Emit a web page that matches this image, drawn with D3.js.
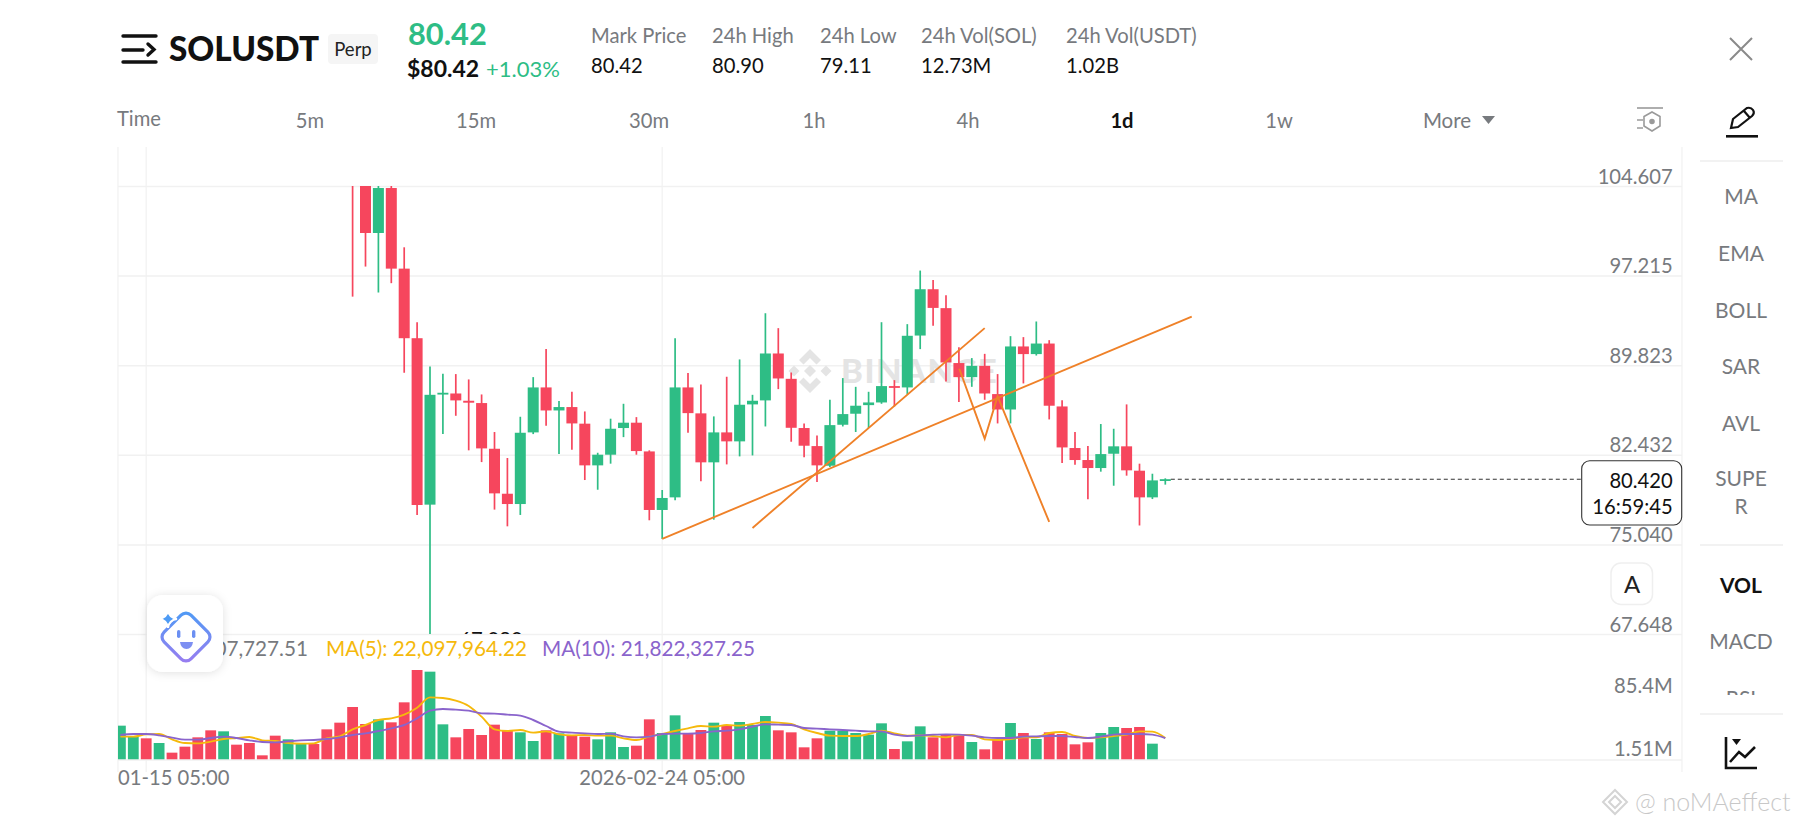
<!DOCTYPE html>
<html>
<head>
<meta charset="utf-8">
<script src="https://cdn.jsdelivr.net/npm/d3@7"></script>
<style>
  html, body { margin: 0; padding: 0; background: #fff; overflow: hidden; }
  text { font-family: Lato, "Open Sans", sans-serif; }
</style>
</head>
<body>
<svg id="chart" width="1800" height="828"></svg>
<script>
// Price ticks and volume ticks
let priceTicks = [104.607, 97.215, 89.823, 82.432, 75.040, 67.648];
let volumeTicks = [85.4, 1.51];
let volumeTickLabels = ["85.4M", "1.51M"];

// Candles, the ones before candleStart are above the visible pane
let candleStart = 18;
let opens = [108.2, 106.5, 100.73, 104.44, 97.79, 92.05, 78.32, 87.41, 87.49, 86.89, 86.70, 82.93, 79.22, 78.37, 84.28, 87.99, 86.09, 86.37, 85.00, 81.56, 82.44, 84.64, 85.08, 82.71, 77.88, 78.92, 87.99, 85.85, 81.81, 84.28, 83.54, 86.59, 86.92, 90.79, 88.70, 84.64, 83.15, 81.53, 84.91, 85.82, 86.53, 86.75, 88.10, 87.99, 92.27, 96.09, 94.53, 90.00, 88.84, 89.77, 87.44, 86.17, 91.37, 90.74, 91.61, 86.42, 82.99, 82.00, 81.34, 82.52, 83.13, 81.12, 78.92, 80.40];
let highs = [108.8, 107.0, 104.63, 104.63, 99.55, 93.37, 89.72, 89.11, 89.09, 88.65, 87.41, 84.31, 82.17, 85.57, 88.84, 91.15, 86.86, 87.63, 86.01, 82.60, 85.41, 86.64, 85.54, 82.80, 79.53, 92.05, 89.17, 88.24, 85.60, 88.87, 90.30, 87.38, 94.11, 92.88, 89.22, 85.02, 84.03, 86.97, 88.76, 88.04, 87.63, 93.37, 88.59, 93.21, 97.63, 96.86, 95.60, 91.31, 90.41, 90.76, 89.09, 92.22, 92.14, 93.43, 91.89, 86.94, 84.31, 83.15, 84.97, 84.58, 86.59, 81.70, 80.87, 80.49];
let lows = [95.48, 97.96, 95.82, 96.59, 89.20, 77.47, 67.10, 84.14, 85.65, 82.80, 81.83, 77.91, 76.53, 77.47, 84.14, 84.83, 82.50, 82.85, 80.35, 79.55, 81.70, 83.89, 82.44, 77.03, 75.49, 78.68, 84.25, 80.24, 77.08, 81.64, 82.30, 82.38, 84.77, 87.85, 83.51, 82.22, 80.19, 81.42, 84.77, 84.31, 84.64, 86.64, 86.42, 87.41, 91.15, 93.07, 88.48, 86.78, 88.04, 86.97, 85.02, 85.02, 88.32, 90.62, 85.35, 81.75, 81.61, 78.76, 81.04, 79.88, 80.71, 76.60, 78.78, 79.97];
let closes = [105.9, 100.73, 104.44, 97.79, 92.05, 78.29, 87.38, 87.55, 86.92, 86.73, 82.96, 79.25, 78.37, 84.25, 87.99, 86.09, 86.37, 85.02, 81.56, 82.44, 84.58, 85.08, 82.74, 77.88, 78.87, 87.99, 85.87, 81.81, 84.28, 83.54, 86.56, 86.89, 90.79, 88.73, 84.66, 83.18, 81.56, 84.88, 85.79, 86.48, 86.75, 88.10, 87.96, 92.25, 96.09, 94.55, 90.05, 88.84, 89.77, 87.49, 86.17, 91.37, 90.74, 91.61, 86.48, 83.04, 82.00, 81.34, 82.49, 83.13, 81.15, 78.92, 80.32, 80.42];

// Volume in millions, one per day
let volumes = [33.51, 23.26, 21.71, 17.36, 8.35, 13.94, 22.64, 29.16, 28.23, 15.80, 17.36, 5.86, 24.19, 20.77, 17.05, 16.42, 30.09, 36.31, 50.91, 35.07, 39.41, 36.62, 55.26, 85.40, 83.85, 34.75, 22.64, 30.41, 24.81, 34.44, 28.54, 27.30, 19.22, 29.16, 26.37, 24.81, 23.26, 20.77, 27.30, 13.63, 14.87, 39.41, 26.68, 43.14, 25.74, 29.47, 36.31, 33.51, 36.93, 34.13, 42.52, 29.16, 27.30, 13.32, 21.71, 28.85, 28.85, 26.68, 25.12, 35.69, 11.76, 18.91, 32.89, 22.64, 24.81, 25.74, 18.29, 11.45, 20.15, 36.00, 26.68, 21.08, 27.30, 25.74, 16.11, 17.98, 26.68, 32.27, 31.34, 32.27, 16.73, 0.31];
let volumeUp = "GGRGRRRRGRRRRGGRRRRRGRRRGGRRRRRGGRGRRGGGRRGGRRGRGGGRRRRGGGGGRGGRRRGRRGRGRRRRGGRRGG";
let ma5 = [23.26, 23.26, 25.43, 25.74, 20.77, 17.36, 17.05, 18.60, 21.08, 22.02, 22.95, 19.84, 19.22, 17.36, 16.73, 17.05, 21.71, 23.57, 30.09, 34.13, 38.79, 40.35, 43.77, 50.29, 59.92, 59.30, 56.81, 51.84, 41.90, 30.09, 28.54, 29.47, 26.99, 28.23, 25.43, 24.50, 24.81, 24.19, 24.19, 21.71, 20.15, 23.26, 25.74, 28.54, 31.03, 33.20, 32.58, 34.13, 33.51, 35.07, 36.93, 36.31, 35.07, 30.09, 26.68, 24.19, 23.88, 23.88, 25.74, 28.85, 26.37, 24.19, 24.50, 23.88, 22.64, 24.81, 24.81, 20.77, 20.15, 21.08, 22.64, 22.64, 26.68, 27.61, 23.88, 22.02, 22.64, 23.88, 25.12, 28.23, 27.92, 22.10];
let ma10 = [24.81, 25.74, 25.74, 24.50, 22.33, 20.46, 20.46, 22.02, 23.26, 22.02, 19.84, 18.29, 17.98, 18.91, 19.84, 20.15, 21.08, 22.64, 24.81, 26.37, 28.54, 31.03, 34.13, 40.35, 47.49, 49.05, 48.43, 47.49, 45.01, 44.70, 43.77, 42.83, 38.79, 33.20, 27.92, 26.99, 26.37, 25.74, 26.05, 23.57, 22.64, 23.26, 25.74, 26.05, 26.05, 26.68, 28.23, 28.85, 30.09, 32.58, 34.75, 34.44, 34.13, 31.34, 30.72, 30.09, 29.47, 28.85, 28.23, 28.23, 25.12, 23.88, 24.50, 25.12, 25.43, 25.12, 24.19, 22.64, 22.02, 22.02, 23.26, 23.57, 23.88, 23.88, 22.95, 22.02, 23.26, 25.12, 25.74, 25.74, 25.12, 21.82];

// Trend lines drawn on the chart, [candle index, price]
let trendLines = [
  [[42, 75.49], [83.05, 93.84]],
  [[49, 76.40], [67, 92.88]],
  [[65.03, 89.53], [67, 83.76], [68, 87.25], [72, 76.89]]
];

let lastPrice = 80.42;
let lowestLabel = "67.080";

// Header
let statLabels = ["Mark Price", "24h High", "24h Low", "24h Vol(SOL)", "24h Vol(USDT)"];
let statValues = ["80.42", "80.90", "79.11", "12.73M", "1.02B"];
let statX = [591, 712, 820, 921, 1066];
let intervals = ["5m", "15m", "30m", "1h", "4h", "1d", "1w"];
let intervalX = [310, 476, 649, 814, 968, 1122, 1279];
let sideLabels = ["MA", "EMA", "BOLL", "SAR", "AVL", "SUPE", "R", "VOL", "MACD", "RSI"];
let sideY = [197, 254, 311, 367, 424, 479, 507, 586, 642, 699];

let GREEN = "#2ebd85", RED = "#f6465d", GRID = "#f1f1f1", GREY = "#777a7e", ORANGE = "#ef8128";
let paneLeft = 118, paneRight = 1682;
let FONT = 20.2;

let svg = d3.select("#chart");

// Scales
let x = d3.scaleLinear().domain([0, 81]).range([120.4, 1165.3]);
let yPrice = d3.scaleLinear().domain([67.648, 104.607]).range([634, 186]);
let yVol = d3.scaleLinear().domain([1.51, 85.4]).range([760, 670]).clamp(true);

function label(parent, str, px, py, size, color, anchor, weight) {
  return parent.append("text")
    .attr("x", px).attr("y", py)
    .attr("dy", "0.35em")
    .attr("font-size", size)
    .attr("fill", color)
    .attr("text-anchor", anchor || "start")
    .attr("font-weight", weight || 400)
    .text(str);
}

// Clip for the price pane
let defs = svg.append("defs");
defs.append("clipPath").attr("id", "pricePane").append("rect")
  .attr("x", paneLeft).attr("y", 186).attr("width", paneRight - paneLeft).attr("height", 448);
defs.append("clipPath").attr("id", "sidePane").append("rect")
  .attr("x", 1700).attr("y", 160).attr("width", 90).attr("height", 535);
let grad = defs.append("linearGradient").attr("id", "botGrad")
  .attr("x1", 0).attr("y1", 0).attr("x2", 1).attr("y2", 1);
grad.append("stop").attr("offset", 0).attr("stop-color", "#4d9bf5");
grad.append("stop").attr("offset", 1).attr("stop-color", "#9a7cf0");
let shadow = defs.append("filter").attr("id", "softShadow")
  .attr("x", "-30%").attr("y", "-30%").attr("width", "160%").attr("height", "160%");
shadow.append("feDropShadow").attr("dx", 0).attr("dy", 1).attr("stdDeviation", 5)
  .attr("flood-color", "#000").attr("flood-opacity", 0.12);

// Vertical grid lines
let verticals = [paneLeft, x(2), x(42), paneRight];
svg.append("g").selectAll("line").data(verticals).join("line")
  .attr("x1", d => d).attr("x2", d => d)
  .attr("y1", 147).attr("y2", 772)
  .attr("stroke", GRID).attr("stroke-width", 1.2);

// Horizontal grid lines and price labels
let priceAxis = d3.axisRight(yPrice)
  .tickValues(priceTicks)
  .tickFormat(d3.format(".3f"))
  .tickSize(paneRight - paneLeft)
  .tickPadding(0);
let priceG = svg.append("g").attr("transform", `translate(${paneLeft},0)`).call(priceAxis);
priceG.select(".domain").remove();
priceG.selectAll("line").attr("stroke", GRID).attr("stroke-width", 1.5);
priceG.selectAll("text")
  .attr("x", 1672.7 - paneLeft).attr("dy", -3)
  .attr("text-anchor", "end")
  .attr("font-size", FONT).attr("fill", GREY)
  .style("font-family", "Lato");

// Binance watermark sits under the candles
let mark = svg.append("g").attr("transform", "translate(810,371)").attr("fill", "#e4e4e4");
mark.append("path").attr("d", "M0,-22 L11,-11 L6.5,-6.5 L0,-13 L-6.5,-6.5 L-11,-11 Z");
mark.append("path").attr("d", "M0,22 L11,11 L6.5,6.5 L0,13 L-6.5,6.5 L-11,11 Z");
mark.append("path").attr("d", "M0,-6 L6,0 L0,6 L-6,0 Z");
mark.append("path").attr("d", "M-16,-5.5 L-10.5,0 L-16,5.5 L-21.5,0 Z");
mark.append("path").attr("d", "M16,-5.5 L21.5,0 L16,5.5 L10.5,0 Z");
label(svg, "BINANCE", 841, 371, 33, "#e4e4e4", "start", 900).attr("letter-spacing", 1.5);

// Candles
let indices = d3.range(opens.length);
let candles = svg.append("g").attr("clip-path", "url(#pricePane)");
candles.selectAll(".wick").data(indices).join("line")
  .attr("class", "wick")
  .attr("x1", i => x(i + candleStart)).attr("x2", i => x(i + candleStart))
  .attr("y1", i => yPrice(highs[i])).attr("y2", i => yPrice(lows[i]))
  .attr("stroke", i => closes[i] >= opens[i] ? GREEN : RED)
  .attr("stroke-width", 1.7);
candles.selectAll(".body").data(indices).join("rect")
  .attr("class", "body")
  .attr("x", i => x(i + candleStart) - 5.5)
  .attr("width", 11)
  .attr("y", i => yPrice(Math.max(opens[i], closes[i])))
  .attr("height", i => Math.max(1.8, Math.abs(yPrice(opens[i]) - yPrice(closes[i]))))
  .attr("fill", i => closes[i] >= opens[i] ? GREEN : RED);
candles.append("text")
  .attr("x", 491).attr("y", 647)
  .attr("text-anchor", "middle").attr("font-size", FONT).attr("fill", "#111")
  .text(lowestLabel);

// Trend lines
let trendLine = d3.line().x(d => x(d[0])).y(d => yPrice(d[1]));
svg.append("g").selectAll("path").data(trendLines).join("path")
  .attr("d", trendLine)
  .attr("fill", "none").attr("stroke", ORANGE).attr("stroke-width", 1.9);

// Last price line and box
let lastY = yPrice(lastPrice);
svg.append("line")
  .attr("x1", x(81) + 5.5).attr("x2", 1582)
  .attr("y1", lastY).attr("y2", lastY)
  .attr("stroke", "#333").attr("stroke-width", 1.1).attr("stroke-dasharray", "4 3");
svg.append("rect")
  .attr("x", 1581.7).attr("y", 460.7).attr("width", 100).attr("height", 64.3).attr("rx", 8)
  .attr("fill", "#fff").attr("stroke", "#333").attr("stroke-width", 1.1);
label(svg, d3.format(".3f")(lastPrice), 1672.7, 480.5, FONT, "#111", "end");
label(svg, "16:59:45", 1672.7, 507, FONT, "#111", "end");

// "A" button
svg.append("rect")
  .attr("x", 1611).attr("y", 563).attr("width", 41.5).attr("height", 41.5).attr("rx", 10)
  .attr("fill", "#fff").attr("stroke", "#efefef").attr("stroke-width", 1.5);
label(svg, "A", 1632, 585, 24, "#222", "middle");

// Volume bars
let volG = svg.append("g");
volG.selectAll("rect").data(volumes).join("rect")
  .attr("x", (d, i) => x(i) - 5.4)
  .attr("width", 10.8)
  .attr("y", d => yVol(d))
  .attr("height", d => 760 - yVol(d))
  .attr("fill", (d, i) => volumeUp[i] == "G" ? GREEN : RED);
// First bar is cut by the left edge of the pane
volG.select("rect").attr("x", paneLeft).attr("width", x(0) + 5.4 - paneLeft);

// Volume moving averages
let maLine = d3.line().x((d, i) => x(i)).y(d => yVol(d)).curve(d3.curveMonotoneX);
svg.append("path").datum(ma5).attr("d", maLine)
  .attr("fill", "none").attr("stroke", "#f5b90c").attr("stroke-width", 1.9);
svg.append("path").datum(ma10).attr("d", maLine)
  .attr("fill", "none").attr("stroke", "#8a64cc").attr("stroke-width", 1.9);

// Volume axis
let volAxis = d3.axisRight(yVol)
  .tickValues(volumeTicks)
  .tickFormat((d, i) => volumeTickLabels[i])
  .tickSize(0);
let volAxisG = svg.append("g").attr("transform", `translate(${paneLeft},0)`).call(volAxis);
volAxisG.select(".domain").remove();
volAxisG.selectAll("text")
  .attr("x", 1672.7 - paneLeft)
  .attr("dy", d => d > 10 ? 22 : -5)
  .attr("text-anchor", "end")
  .attr("font-size", FONT).attr("fill", GREY)
  .style("font-family", "Lato");
svg.append("line").attr("x1", paneLeft).attr("x2", paneRight).attr("y1", 760).attr("y2", 760)
  .attr("stroke", GRID).attr("stroke-width", 1.5);

// Volume legend
label(svg, "307,727.51", 308, 649, 20.7, GREY, "end");
label(svg, "MA(5): 22,097,964.22", 326, 649, 20.7, "#f5b90c");
label(svg, "MA(10): 21,822,327.25", 542, 649, 20.7, "#8a64cc");

// Date labels
label(svg, "01-15 05:00", 118, 778, FONT, GREY);
label(svg, "2026-02-24 05:00", x(42), 778, FONT, GREY, "middle");

// Assistant button over the legend
svg.append("rect")
  .attr("x", 147).attr("y", 595).attr("width", 76).attr("height", 77).attr("rx", 16)
  .attr("fill", "#fff").attr("filter", "url(#softShadow)");
let bot = svg.append("g").attr("transform", "translate(186,637)");
bot.append("rect").attr("x", -19).attr("y", -19).attr("width", 38).attr("height", 38).attr("rx", 7)
  .attr("transform", "rotate(45)").attr("fill", "#fff")
  .attr("stroke", "url(#botGrad)").attr("stroke-width", 3.2);
bot.append("rect").attr("x", -9).attr("y", -7).attr("width", 3.4).attr("height", 8).attr("rx", 1.7).attr("fill", "#6b8ff2");
bot.append("rect").attr("x", 6).attr("y", -7).attr("width", 3.4).attr("height", 8).attr("rx", 1.7).attr("fill", "#6b8ff2");
bot.append("path").attr("d", "M-6,5 H7 Q6,12 0.5,12 Q-5,12 -6,5 Z").attr("fill", "#7d8ff2");
bot.append("path").attr("d", "M-18,-27 Q-17,-19 -9,-18 Q-17,-17 -18,-9 Q-19,-17 -27,-18 Q-19,-19 -18,-27 Z")
  .attr("fill", "#4d9bf5").attr("stroke", "#fff").attr("stroke-width", 2);

// Header
let head = svg.append("g");
head.append("path")
  .attr("d", "M123,36 H156 M123,50 H143 M123,62 H156 M148,44 L154,49.5 L148,55")
  .attr("fill", "none").attr("stroke", "#111").attr("stroke-width", 3.4).attr("stroke-linecap", "round");
label(head, "SOLUSDT", 169, 49.5, 33.3, "#111", "start", 900);
head.append("rect").attr("x", 328).attr("y", 34).attr("width", 50).attr("height", 30).attr("rx", 4).attr("fill", "#f5f5f5");
label(head, "Perp", 353, 50, 18.5, "#222", "middle");
label(head, "80.42", 408, 34.5, 30.8, GREEN, "start", 700);
label(head, "$80.42", 407, 69, 23, "#111", "start", 700);
label(head, "+1.03%", 486, 69.5, 22, GREEN);
statLabels.forEach((d, i) => {
  label(head, d, statX[i], 35.5, FONT, GREY);
  label(head, statValues[i], statX[i], 65.5, FONT, "#111");
});

// Interval row
label(head, "Time", 117, 119, FONT, GREY);
intervals.forEach((d, i) => {
  label(head, d, intervalX[i], 121, FONT, d == "1d" ? "#111" : GREY, "middle", d == "1d" ? 700 : 400);
});
label(head, "More", 1447, 121, 20.5, GREY, "middle");
head.append("path").attr("d", "M1482,116 H1495 L1488.5,124 Z").attr("fill", GREY);

// Layout settings icon
let settings = head.append("g").attr("fill", "none").attr("stroke", "#9a9a9a").attr("stroke-width", 1.6);
settings.append("path").attr("d", "M1637,108 H1663");
settings.append("path").attr("d", "M1637,120 H1643 M1637,128 H1643");
settings.append("path").attr("d", "M1652,112 L1660,116.5 V126 L1652,131 L1644,126 V116.5 Z");
settings.append("circle").attr("cx", 1652).attr("cy", 121.5).attr("r", 2).attr("fill", "#9a9a9a");

// Close and pencil icons
head.append("path").attr("d", "M1730,38 L1752,60 M1752,38 L1730,60")
  .attr("fill", "none").attr("stroke", "#8a8a8a").attr("stroke-width", 2);
head.append("path").attr("d", "M1731,128 L1733,119 L1747,108 Q1751,107 1753,110 Q1755,113 1752,116 L1738,127 Z M1744,111 L1750,118")
  .attr("fill", "none").attr("stroke", "#111").attr("stroke-width", 2.2);
head.append("rect").attr("x", 1726).attr("y", 135).attr("width", 32).attr("height", 2.6).attr("fill", "#111");

// Side menu
let side = svg.append("g").attr("clip-path", "url(#sidePane)");
sideLabels.forEach((d, i) => {
  label(side, d, 1741, sideY[i], 21, d == "VOL" ? "#111" : GREY, "middle", d == "VOL" ? 700 : 400);
});
svg.append("g").selectAll("line").data([161, 545, 714]).join("line")
  .attr("x1", 1700).attr("x2", 1783).attr("y1", d => d).attr("y2", d => d)
  .attr("stroke", "#eeeeee").attr("stroke-width", 1.6);

// Chart type icon
head.append("path").attr("d", "M1726,737 V768 H1757 M1730,762 L1739,752 L1745,757 L1755,747")
  .attr("fill", "none").attr("stroke", "#111").attr("stroke-width", 2.6);
head.append("path").attr("d", "M1732,739 H1741 L1736.5,745 Z").attr("fill", "#111");

// Footer watermark
let foot = svg.append("g").attr("fill", "#cfcfcf");
foot.append("path").attr("d", "M1615,790 L1627,802 L1615,814 L1603,802 Z M1615,796 L1621,802 L1615,808 L1609,802 Z")
  .attr("fill", "none").attr("stroke", "#d4d4d4").attr("stroke-width", 2);
label(foot, "@ noMAeffect", 1635, 802, 25, "#c8c8c8", "start", 300);
</script>
</body>
</html>
